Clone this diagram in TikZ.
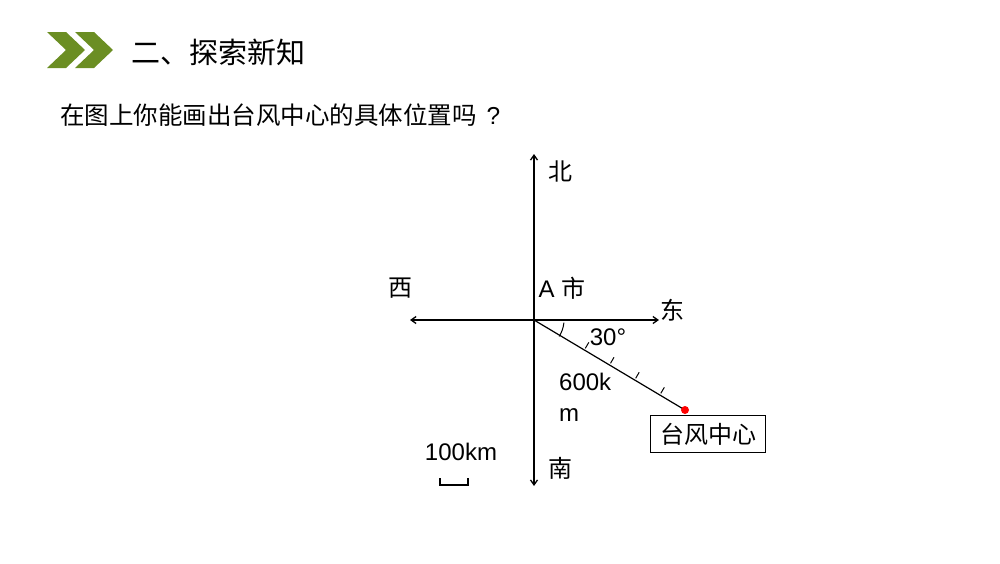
\documentclass[tikz,border=0pt]{standalone}
\usepackage{fontspec}
\setmainfont{Liberation Sans}
\newfontfamily\cjk{Noto Sans CJK SC}
\usetikzlibrary{arrows.meta,calc}
\definecolor{chev}{RGB}{107,142,35}
\begin{document}
\begin{tikzpicture}[x=1pt,y=-1pt,
  axis/.style={line width=1.3pt, {Straight Barb[length=5pt,width=7pt]}-{Straight Barb[length=5pt,width=7pt]}},
  lbl/.style={font=\fontsize{24}{31}\selectfont, inner sep=0pt},
  ticks/.style={line width=1pt},
  chevshape/.style={fill=chev}]
\useasboundingbox (0,0) rectangle (1000,563);
% header
\fill[chevshape] (47,32) -- (66,32) -- (85,50) -- (66,68) -- (47,68) -- (66,50) -- cycle;
\fill[chevshape] (75,32) -- (94,32) -- (113,50) -- (94,68) -- (75,68) -- (94,50) -- cycle;
\node[inner sep=0pt, anchor=west, font=\fontsize{29}{33}\selectfont\cjk] (title) at (131,52) {二、探索新知};
\node[inner sep=0pt, anchor=west, font=\fontsize{24.5}{28}\selectfont\cjk] (question) at (60,115) {在图上你能画出台风中心的具体位置吗\hspace{10pt}{\rmfamily ?}};
% axes
\coordinate (A) at (534,320);
\coordinate (N) at (534,154);
\coordinate (S) at (534,486);
\coordinate (W) at (410,320);
\coordinate (E) at (659,320);
\coordinate (T) at (685,410);
\draw[axis] (S) -- (N);
\draw[axis] (W) -- (E);
\node[lbl, font=\fontsize{24}{31}\selectfont\cjk] (north) at (560,171) {北};
\node[lbl, font=\fontsize{24}{31}\selectfont\cjk] (south) at (560,468) {南};
\node[lbl, font=\fontsize{24}{31}\selectfont\cjk] (west) at (400,288) {西};
\node[lbl, font=\fontsize{24}{31}\selectfont\cjk] (east) at (672,310) {东};
\node[lbl] (city) at (562,288) {A {\cjk 市}};
% bearing line
\draw[line width=1.2pt] (A) -- (T);
\foreach \k in {2,3,4,5} {
  \draw[ticks] ($(A)!{\k/6}!(T)$) ++(1,-1.7) -- ++(3.5,-6);
}
\draw[line width=1pt] (A) ++(33:30) arc[start angle=33, end angle=5, radius=30];
\node[lbl] (angle) at (608,337) {30°};
\node[lbl, align=left, anchor=north west] (dist) at (559,373) {600k\\m};
\fill[red] (T) circle[radius=4pt];
\node[draw, line width=0.8pt, minimum width=115pt, minimum height=37pt, inner sep=0pt, font=\fontsize{24}{28}\selectfont\cjk] (center) at (708,434) {台风中心};
% scale
\node[lbl] (scale) at (461,452) {100km};
\coordinate (s1) at (440,478);
\coordinate (s2) at (468,478);
\draw[line width=1.5pt] (s1) -- ++(0,7) -| (s2);
\end{tikzpicture}
\end{document}
